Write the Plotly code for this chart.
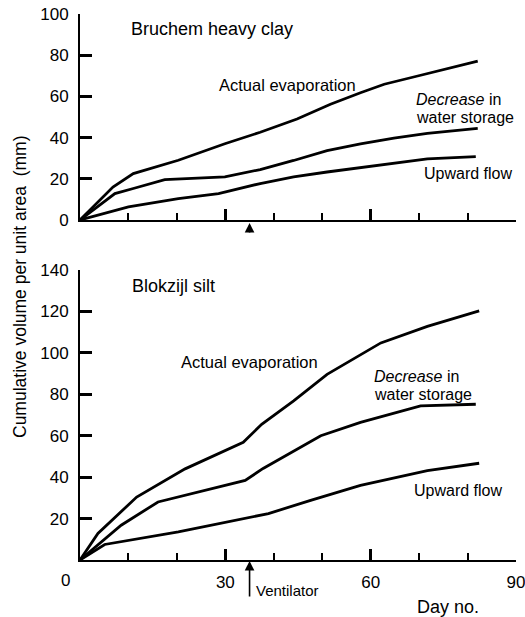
import plotly.graph_objects as go

# ---------------- data ----------------
# Bruchem heavy clay (top panel)
clay_evap_day = [0, 6.8, 11, 20.3, 29.9, 37.2, 44.8, 51.7, 57.9, 62.8, 69.7, 82.1]
clay_evap_val = [0, 16, 22.5, 29, 37, 42.6, 49, 56.2, 61.8, 65.9, 69.9, 77.1]

clay_store_day = [0, 7.2, 11, 17.5, 29.9, 37.2, 44.1, 51, 57.9, 64.8, 71.7, 82.1]
clay_store_val = [0, 12.8, 15.3, 19.6, 20.9, 24.5, 28.9, 33.7, 37, 39.8, 42, 44.5]

clay_flow_day = [0, 10, 20.3, 28.6, 37.2, 44.1, 51, 57.9, 64.8, 71.7, 81.7]
clay_flow_val = [0, 6.4, 10.4, 12.8, 17.7, 20.9, 23.3, 25.4, 27.6, 29.7, 30.8]

# Blokzijl silt (bottom panel)
silt_evap_day = [0, 3.7, 11.7, 21.7, 33.7, 37.5, 44.1, 51, 62.1, 71.7, 82.4]
silt_evap_val = [0, 12.8, 30.4, 44, 56.8, 65.5, 76.8, 89.6, 104.8, 112.8, 120.3]

silt_store_day = [0, 8.5, 16.1, 20.3, 34.1, 37.8, 49.7, 57.9, 70.3, 81.7]
silt_store_val = [0, 16.8, 28, 30.4, 38.4, 44.2, 60, 66.4, 74.4, 75.2]

silt_flow_day = [0, 5.1, 20.3, 38.9, 47.6, 57.9, 71.7, 82.4]
silt_flow_val = [0, 7.5, 13.6, 22.4, 28.8, 36, 43.2, 46.7]

ventilator_day = 35

x_major = [0, 30, 60, 90]
x_minor = [10, 20, 40, 50, 70, 80]
x_ticklabels = ["0", "30", "60", "90"]
top_yticks = [0, 20, 40, 60, 80, 100]
bot_yticks = [20, 40, 60, 80, 100, 120, 140]

# ---------------- figure ----------------
W, H = 525, 617
L, R = 80, 9
FONT = "Liberation Sans, Arial, Helvetica, sans-serif"
TICKC = "#000000"


def px(x):
    return (x - L) / (W - L - R)


def py(y):
    return 1 - y / H


fig = go.Figure()
line = dict(color="black", width=2.8)
for d, v in [(clay_evap_day, clay_evap_val), (clay_store_day, clay_store_val),
             (clay_flow_day, clay_flow_val)]:
    fig.add_trace(go.Scatter(x=d, y=v, mode="lines", line=line, xaxis="x", yaxis="y",
                             showlegend=False, hoverinfo="skip"))
for d, v in [(silt_evap_day, silt_evap_val), (silt_store_day, silt_store_val),
             (silt_flow_day, silt_flow_val)]:
    fig.add_trace(go.Scatter(x=d, y=v, mode="lines", line=line, xaxis="x2", yaxis="y2",
                             showlegend=False, hoverinfo="skip"))

axis_common = dict(showline=True, linecolor="black", linewidth=2, showgrid=False,
                   zeroline=False, ticks="inside", tickcolor=TICKC, tickwidth=2.5,
                   automargin=False, ticklabeloverflow="allow",
                   tickfont=dict(family=FONT, size=17, color="black"))

xminor = dict(tickmode="array", tickvals=x_minor, ticks="inside", ticklen=7,
              tickwidth=2, tickcolor=TICKC, showgrid=False)

fig.update_layout(
    template="none",
    width=W, height=H,
    margin=dict(l=L, r=R, t=0, b=0, pad=0),
    paper_bgcolor="white", plot_bgcolor="white",
    font=dict(family=FONT, color="black"),
    xaxis=dict(axis_common, domain=[0, 1], range=[0, 90], anchor="y",
               tickmode="array", tickvals=x_major, ticklen=11, showticklabels=False,
               minor=xminor),
    yaxis=dict(axis_common, domain=[py(220), py(14)], range=[0, 100], anchor="x",
               tickmode="array", tickvals=top_yticks, ticklen=12, ticklabelstandoff=6),
    xaxis2=dict(axis_common, domain=[0, 1], range=[0, 90], anchor="y2",
                tickmode="array", tickvals=x_major,
                ticktext=[""] + x_ticklabels[1:], ticklen=11, ticklabelstandoff=6,
                minor=xminor),
    yaxis2=dict(axis_common, domain=[py(560), py(270)], range=[0, 140], anchor="x2",
                tickmode="array", tickvals=bot_yticks, ticklen=12, ticklabelstandoff=6),
)


def label(text, x, y, size=16, xanchor="left", **kw):
    fig.add_annotation(text=text, x=px(x), y=py(y), xref="paper", yref="paper",
                       xanchor=xanchor, yanchor="middle", showarrow=False,
                       font=dict(family=FONT, size=size, color="black"), **kw)


label("Bruchem heavy clay", 129, 29, size=18)
label("Blokzijl silt", 130, 286, size=18)

label("Actual evaporation", 217, 85, size=16.5)
label("<i>Decrease</i> in", 414, 99)
label("water storage", 414, 117.5)
label("Upward flow", 422, 173)

label("Actual evaporation", 179, 362, size=16.5)
label("<i>Decrease</i> in", 372, 376)
label("water storage", 372, 394.5)
label("Upward flow", 412, 490)

label("Ventilator", 254, 590, size=15)
label("Day no.", 415, 607, size=18)
label(x_ticklabels[0], 65, 580, size=17, xanchor="center")
label("Cumulative volume per unit area  (mm)", 20, 287, size=17.5, xanchor="center",
      textangle=-90)

# ventilator arrows
fig.add_annotation(x=ventilator_day, y=0, xref="x2", yref="y2", text="", showarrow=True,
                   ax=0, ay=38, arrowhead=2, arrowsize=1.2, arrowwidth=1.6,
                   arrowcolor="black", standoff=1)
fig.add_annotation(x=ventilator_day, y=0, xref="x", yref="y", text="", showarrow=True,
                   ax=0, ay=14, arrowhead=2, arrowsize=1.2, arrowwidth=1.6,
                   arrowcolor="black", standoff=3)

fig.write_html("out.html")
